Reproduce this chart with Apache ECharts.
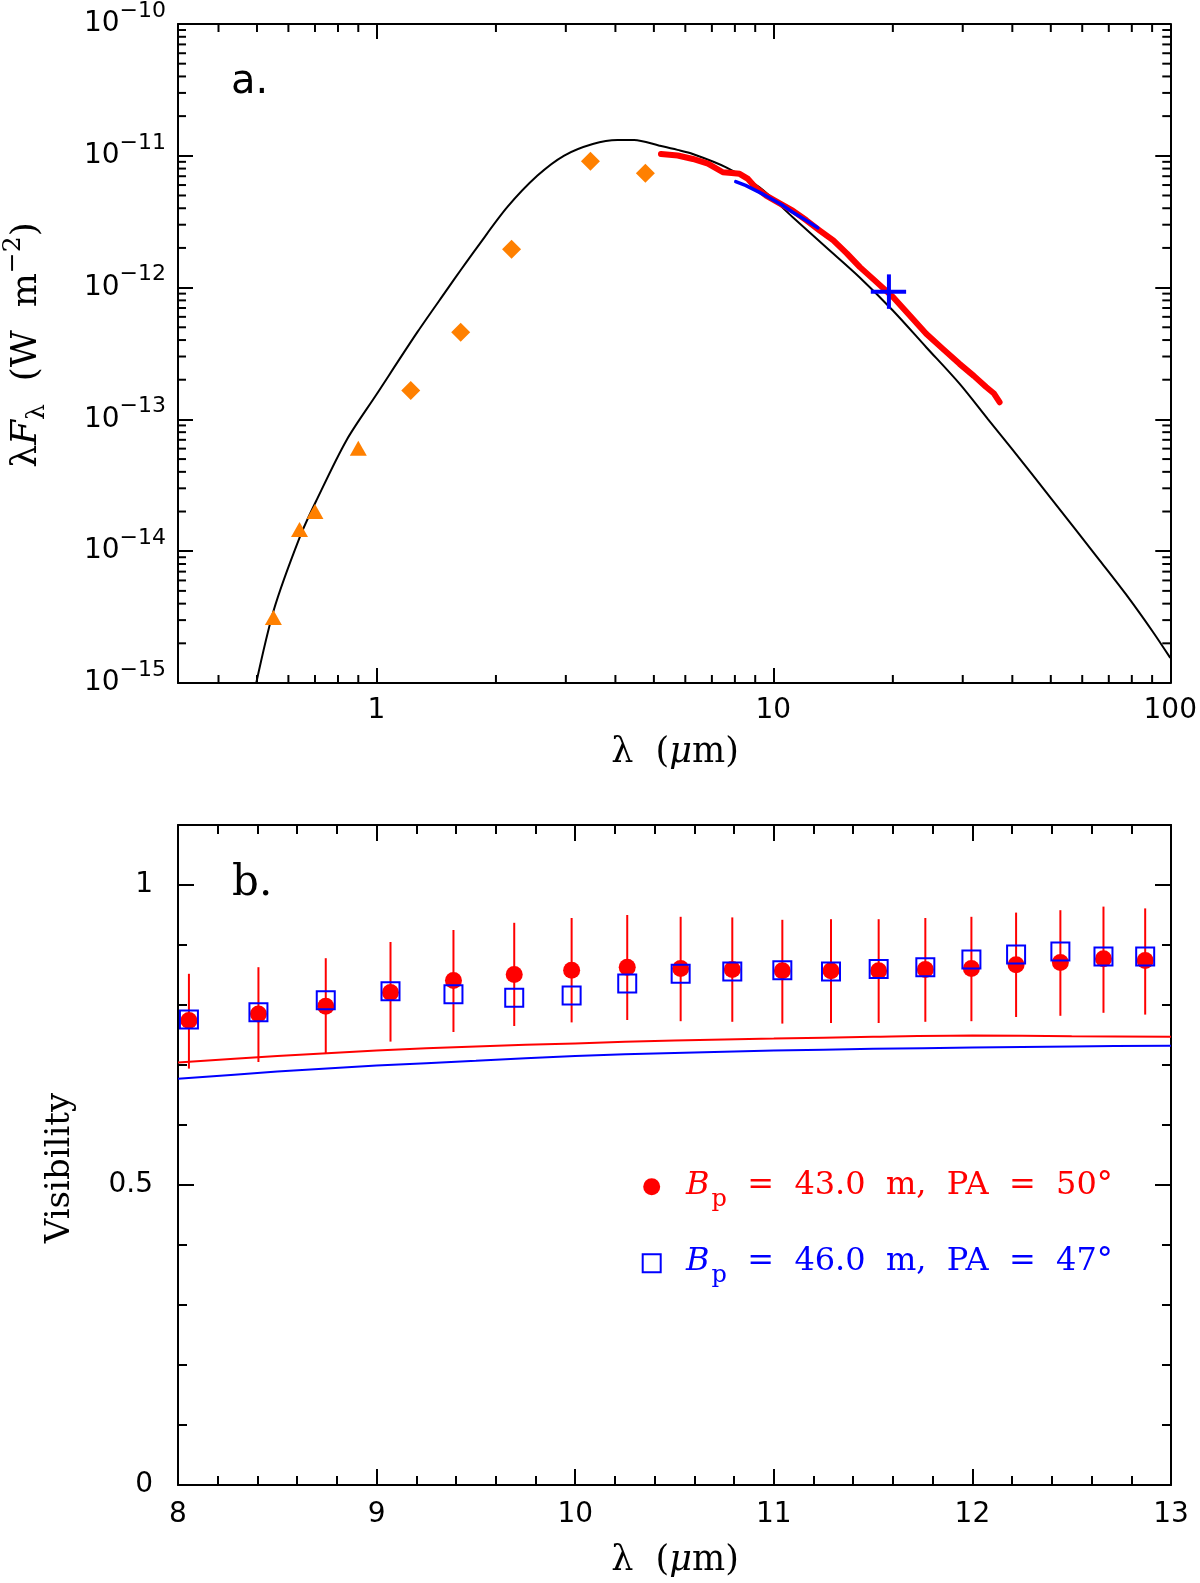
<!DOCTYPE html>
<html><head><meta charset="utf-8">
<script src="https://cdn.jsdelivr.net/npm/echarts@6/dist/echarts.min.js"></script>
<style>html,body{margin:0;padding:0;background:#fff}#c{width:1200px;height:1583px}</style>
</head><body><div id="c"></div>
<script>
// ---------- Panel a: SED ----------
const modelLam = [0.490, 0.551, 0.641, 0.706, 0.840, 1.0, 1.269, 1.510, 1.631, 1.797, 2.138, 2.545, 2.972, 3.508, 4.050, 4.457, 5.164, 5.736, 6.266, 7.603, 9.226, 11.19, 13.58, 16.48, 20.0, 24.27, 29.44, 34.75, 39.81, 50.12, 66.37, 77.45, 90.36, 100];
const modelFlux = [8.0e-16, 3.56e-15, 1.28e-14, 2.43e-14, 6.93e-14, 1.545e-13, 4.61e-13, 9.77e-13, 1.361e-12, 2.04e-12, 4.09e-12, 7.08e-12, 1.005e-11, 1.23e-11, 1.318e-11, 1.318e-11, 1.194e-11, 1.109e-11, 1.033e-11, 8.18e-12, 5.77e-12, 3.42e-12, 2.023e-12, 1.199e-12, 6.70e-13, 3.53e-13, 1.866e-13, 1.0e-13, 6.03e-14, 2.51e-14, 8.53e-15, 4.68e-15, 2.45e-15, 1.55e-15];
const triLam = [0.55, 0.64, 0.70, 0.90];
const triFlux = [3.14e-15, 1.46e-14, 2.0e-14, 6.05e-14];
const diaLam = [1.22, 1.63, 2.19, 3.46, 4.76];
const diaFlux = [1.66e-13, 4.59e-13, 1.95e-12, 9.08e-12, 7.36e-12];
const redSpecLam = [5.21, 5.74, 6.27, 6.84, 7.46, 7.85, 8.22, 8.63, 9.02, 9.59, 10.35, 11.19, 12.11, 13.09, 14.16, 15.31, 16.52, 18.2, 20.04, 22.03, 24.27, 26.73, 29.44, 31.99, 34.36, 35.9, 37.15];
const redSpecFlux = [1.033e-11, 1.005e-11, 9.46e-12, 8.71e-12, 7.50e-12, 7.41e-12, 7.30e-12, 6.68e-12, 5.75e-12, 4.99e-12, 4.37e-12, 3.84e-12, 3.24e-12, 2.71e-12, 2.28e-12, 1.82e-12, 1.43e-12, 1.10e-12, 8.45e-13, 6.17e-13, 4.47e-13, 3.43e-13, 2.64e-13, 2.14e-13, 1.76e-13, 1.58e-13, 1.35e-13];
const blueSpecLam = [8.04, 8.51, 9.23, 9.77, 10.47, 11.19, 12.11, 12.94];
const blueSpecFlux = [6.37e-12, 5.96e-12, 5.28e-12, 4.80e-12, 4.27e-12, 3.73e-12, 3.23e-12, 2.84e-12];
const crossPoint = [19.55, 9.3e-13];
const crossLamRange = [17.6, 21.6];
const crossFluxRange = [6.9e-13, 1.26e-12];
const sedXTickLabels = [1, 10, 100];
const sedYTickExponents = [-15, -14, -13, -12, -11, -10];
const sedXMinorTicks = [0.4, 0.5, 0.6, 0.7, 0.8, 0.9, 2, 3, 4, 5, 6, 7, 8, 9, 20, 30, 40, 50, 60, 70, 80, 90];
const sedYMinorTicks = [2e-15, 3e-15, 4e-15, 5e-15, 6e-15, 7e-15, 8e-15, 9e-15,
  2e-14, 3e-14, 4e-14, 5e-14, 6e-14, 7e-14, 8e-14, 9e-14,
  2e-13, 3e-13, 4e-13, 5e-13, 6e-13, 7e-13, 8e-13, 9e-13,
  2e-12, 3e-12, 4e-12, 5e-12, 6e-12, 7e-12, 8e-12, 9e-12,
  2e-11, 3e-11, 4e-11, 5e-11, 6e-11, 7e-11, 8e-11, 9e-11];

// ---------- Panel b: Visibility ----------
const visLam = [8.055, 8.405, 8.744, 9.07, 9.387, 9.693, 9.982, 10.262, 10.531, 10.791, 11.043, 11.288, 11.528, 11.763, 11.995, 12.22, 12.443, 12.66, 12.87];
const visRed = [0.774, 0.785, 0.798, 0.821, 0.841, 0.851, 0.858, 0.863, 0.861, 0.859, 0.857, 0.857, 0.857, 0.859, 0.861, 0.867, 0.871, 0.877, 0.874];
const visRedLow = [0.694, 0.705, 0.719, 0.739, 0.755, 0.765, 0.771, 0.775, 0.773, 0.772, 0.769, 0.770, 0.770, 0.772, 0.773, 0.780, 0.782, 0.787, 0.784];
const visRedHigh = [0.852, 0.863, 0.878, 0.905, 0.925, 0.937, 0.945, 0.950, 0.947, 0.946, 0.942, 0.943, 0.943, 0.945, 0.947, 0.954, 0.958, 0.964, 0.961];
const visBlue = [0.776, 0.788, 0.808, 0.823, 0.818, 0.812, 0.816, 0.836, 0.852, 0.856, 0.858, 0.856, 0.860, 0.863, 0.876, 0.884, 0.889, 0.881, 0.881];
const modelVisLam = [8.0, 8.5, 9.0, 9.5, 10.0, 10.5, 11.0, 11.5, 12.0, 12.5, 13.0];
const modelVisRed = [0.704, 0.715, 0.724, 0.731, 0.736, 0.741, 0.744, 0.747, 0.749, 0.748, 0.747];
const modelVisBlue = [0.677, 0.689, 0.699, 0.707, 0.715, 0.720, 0.724, 0.727, 0.729, 0.731, 0.732];
const visXTickLabels = [8, 9, 10, 11, 12, 13];
const visYTickLabels = [0, 0.5, 1];

const zip = (a, b) => a.map((v, i) => [v, b[i]]);

const BLACK = '#000';
const TICK_FONT = 'DejaVu Sans';
const SERIF = 'DejaVu Serif';
const lineW = { color: BLACK, width: 2 };

function logXLabel(v) {
  const e = Math.log10(v);
  if (Math.abs(e - Math.round(e)) > 1e-6) return '';
  const val = Math.pow(10, Math.round(e));
  return sedXTickLabels.includes(val) ? String(val) : '';
}
function logYLabel(v) {
  const e = Math.log10(v);
  if (Math.abs(e - Math.round(e)) > 1e-6) return '';
  const n = Math.round(e);
  return sedYTickExponents.includes(n) ? '10{sup|\u2212' + Math.abs(n) + '}' : '';
}

function makeAxis(base, extra) { return Object.assign({}, base, extra); }

const sedX = {
  gridIndex: 0, type: 'log', logBase: 10, min: 0.31623, max: 100,
  axisLine: { show: true, onZero: false, lineStyle: lineW },
  axisTick: { show: true, inside: true, length: 15, lineStyle: lineW },
  splitLine: { show: false }
};
const sedY = {
  gridIndex: 0, type: 'log', logBase: 10, min: 1e-15, max: 1e-10,
  axisLine: { show: true, onZero: false, lineStyle: lineW },
  axisTick: { show: true, inside: true, length: 15, lineStyle: lineW },
  splitLine: { show: false }
};
const visX = {
  gridIndex: 1, type: 'value', min: 8, max: 13, interval: 1,
  axisLine: { show: true, onZero: false, lineStyle: lineW },
  axisTick: { show: true, inside: true, length: 16, lineStyle: lineW },
  minorTick: { show: true, splitNumber: 5, length: 9, lineStyle: lineW },
  splitLine: { show: false }
};
const visY = {
  gridIndex: 1, type: 'value', min: 0, max: 1.1, interval: 0.5,
  axisLine: { show: true, onZero: false, lineStyle: lineW },
  axisTick: { show: true, inside: true, length: 16, lineStyle: lineW },
  minorTick: { show: true, splitNumber: 5, length: 9, lineStyle: lineW },
  splitLine: { show: false }
};

function minorTickSeries(dir, data) {
  return {
    type: 'custom', xAxisIndex: 0, yAxisIndex: 0, silent: true, z: 5,
    data: data,
    encode: { x: 0, y: 1 },
    renderItem: function (params, api) {
      const cs = params.coordSys;
      const p = api.coord([api.value(0), api.value(1)]);
      const L = 8;
      const st = { stroke: BLACK, lineWidth: 2 };
      if (dir === 'x') {
        return { type: 'group', children: [
          { type: 'line', shape: { x1: p[0], y1: cs.y + cs.height, x2: p[0], y2: cs.y + cs.height - L }, style: st },
          { type: 'line', shape: { x1: p[0], y1: cs.y, x2: p[0], y2: cs.y + L }, style: st }
        ] };
      }
      return { type: 'group', children: [
        { type: 'line', shape: { x1: cs.x, y1: p[1], x2: cs.x + L, y2: p[1] }, style: st },
        { type: 'line', shape: { x1: cs.x + cs.width, y1: p[1], x2: cs.x + cs.width - L, y2: p[1] }, style: st }
      ] };
    }
  };
}

const option = {
  backgroundColor: '#fff',
  animation: false,
  grid: [
    { left: 178, top: 23, width: 993, height: 660, containLabel: false },
    { left: 178, top: 825, width: 993, height: 660, containLabel: false }
  ],
  xAxis: [
    makeAxis(sedX, { position: 'bottom', axisLabel: { show: true, margin: 14, fontFamily: TICK_FONT, fontSize: 28, color: BLACK, formatter: logXLabel } }),
    makeAxis(sedX, { position: 'top', axisLabel: { show: false } }),
    makeAxis(visX, { position: 'bottom', axisLabel: { show: true, margin: 16, fontFamily: TICK_FONT, fontSize: 28, color: BLACK,
      formatter: v => visXTickLabels.includes(v) ? String(v) : '' } }),
    makeAxis(visX, { position: 'top', axisLabel: { show: false } })
  ],
  yAxis: [
    makeAxis(sedY, { position: 'left', axisLabel: { show: true, margin: 12, fontFamily: TICK_FONT, fontSize: 28, color: BLACK, formatter: logYLabel,
      rich: { sup: { fontFamily: TICK_FONT, fontSize: 22, color: BLACK, padding: [0, 0, 26, 0] } } } }),
    makeAxis(sedY, { position: 'right', axisLabel: { show: false } }),
    makeAxis(visY, { position: 'left', axisLabel: { show: true, margin: 25, fontFamily: TICK_FONT, fontSize: 28, color: BLACK, showMaxLabel: false,
      formatter: v => visYTickLabels.includes(v) ? String(v) : '' } }),
    makeAxis(visY, { position: 'right', axisLabel: { show: false } })
  ],
  series: [
    { name: 'SED model', type: 'line', xAxisIndex: 0, yAxisIndex: 0, data: zip(modelLam, modelFlux),
      showSymbol: false, symbol: 'none', smooth: 0.3, lineStyle: { color: BLACK, width: 2 }, z: 2 },
    { name: 'Optical photometry', type: 'scatter', xAxisIndex: 0, yAxisIndex: 0, data: zip(triLam, triFlux),
      symbol: 'triangle', symbolSize: [17, 15], itemStyle: { color: '#ff8000', opacity: 1 }, z: 3 },
    { name: 'NIR photometry', type: 'scatter', xAxisIndex: 0, yAxisIndex: 0, data: zip(diaLam, diaFlux),
      symbol: 'diamond', symbolSize: 19, itemStyle: { color: '#ff8000', opacity: 1 }, z: 3 },
    { name: 'IR spectrum (red)', type: 'line', xAxisIndex: 0, yAxisIndex: 0, data: zip(redSpecLam, redSpecFlux),
      showSymbol: false, symbol: 'none', lineStyle: { color: '#ff0000', width: 6, cap: 'round', join: 'round' }, z: 4 },
    { name: 'N-band spectrum (blue)', type: 'line', xAxisIndex: 0, yAxisIndex: 0, data: zip(blueSpecLam, blueSpecFlux),
      showSymbol: false, symbol: 'none', lineStyle: { color: '#0000ff', width: 3.5, cap: 'round', join: 'round' }, z: 5 },
    { name: '20 micron point', type: 'custom', xAxisIndex: 0, yAxisIndex: 0, z: 6,
      data: [[crossPoint[0], crossPoint[1], crossLamRange[0], crossLamRange[1], crossFluxRange[0], crossFluxRange[1]]],
      encode: { x: [0, 2, 3], y: [1, 4, 5] },
      renderItem: function (params, api) {
        const l = api.coord([api.value(2), api.value(1)]);
        const r = api.coord([api.value(3), api.value(1)]);
        const b = api.coord([api.value(0), api.value(4)]);
        const t = api.coord([api.value(0), api.value(5)]);
        const st = { stroke: '#0000ff', lineWidth: 4 };
        return { type: 'group', children: [
          { type: 'line', shape: { x1: l[0], y1: l[1], x2: r[0], y2: r[1] }, style: st },
          { type: 'line', shape: { x1: b[0], y1: b[1], x2: t[0], y2: t[1] }, style: st }
        ] };
      } },
    minorTickSeries('x', sedXMinorTicks.map(v => [v, 1e-12])),
    minorTickSeries('y', sedYMinorTicks.map(v => [1, v])),

    { name: 'Model (red)', type: 'line', xAxisIndex: 2, yAxisIndex: 2, data: zip(modelVisLam, modelVisRed),
      showSymbol: false, symbol: 'none', smooth: 0.3, lineStyle: { color: '#ff0000', width: 2 }, z: 2 },
    { name: 'Model (blue)', type: 'line', xAxisIndex: 2, yAxisIndex: 2, data: zip(modelVisLam, modelVisBlue),
      showSymbol: false, symbol: 'none', smooth: 0.3, lineStyle: { color: '#0000ff', width: 2 }, z: 2 },
    { name: 'Error bars', type: 'custom', xAxisIndex: 2, yAxisIndex: 2, z: 3,
      data: visLam.map((x, i) => [x, visRedLow[i], visRedHigh[i]]),
      encode: { x: 0, y: [1, 2] },
      renderItem: function (params, api) {
        const lo = api.coord([api.value(0), api.value(1)]);
        const hi = api.coord([api.value(0), api.value(2)]);
        return { type: 'line', shape: { x1: lo[0], y1: lo[1], x2: hi[0], y2: hi[1] }, style: { stroke: '#ff0000', lineWidth: 2 } };
      } },
    { name: 'Bp = 43.0 m', type: 'scatter', xAxisIndex: 2, yAxisIndex: 2, data: zip(visLam, visRed),
      symbol: 'circle', symbolSize: 17, itemStyle: { color: '#ff0000', opacity: 1 }, z: 4 },
    { name: 'Bp = 46.0 m', type: 'scatter', xAxisIndex: 2, yAxisIndex: 2, data: zip(visLam, visBlue),
      symbol: 'rect', symbolSize: 18, itemStyle: { color: 'rgba(0,0,0,0)', borderColor: '#0000ff', borderWidth: 2, opacity: 1 }, z: 5 }
  ],
  graphic: [
    { type: 'text', x: 231, y: 83, style: { text: 'a.', fontFamily: TICK_FONT, fontSize: 40, fill: BLACK, align: 'left', verticalAlign: 'middle' } },
    { type: 'text', x: 232, y: 884, style: { text: 'b.', fontFamily: SERIF, fontSize: 42, fill: BLACK, align: 'left', verticalAlign: 'middle' } },
    { type: 'text', x: 675, y: 753, style: { text: '\u03bb  ({it|\u03bc}m)', fontFamily: SERIF, fontSize: 35, fill: BLACK, align: 'center', verticalAlign: 'middle',
      rich: { it: { fontFamily: SERIF, fontSize: 35, fontStyle: 'italic', fill: BLACK } } } },
    { type: 'text', x: 675, y: 1561, style: { text: '\u03bb  ({it|\u03bc}m)', fontFamily: SERIF, fontSize: 35, fill: BLACK, align: 'center', verticalAlign: 'middle',
      rich: { it: { fontFamily: SERIF, fontSize: 35, fontStyle: 'italic', fill: BLACK } } } },
    { type: 'text', x: 27, y: 345, rotation: Math.PI / 2,
      style: { text: '\u03bb{it|F}{sub|\u03bb}  (W  m{sup|\u22122})', fontFamily: SERIF, fontSize: 36, fill: BLACK, align: 'center', verticalAlign: 'middle',
        rich: {
          it: { fontFamily: SERIF, fontSize: 36, fontStyle: 'italic', fill: BLACK },
          sub: { fontFamily: SERIF, fontSize: 25, fill: BLACK, padding: [20, 0, 0, 0] },
          sup: { fontFamily: SERIF, fontSize: 25, fill: BLACK, padding: [0, 0, 28, 0] }
        } } },
    { type: 'text', x: 60, y: 1168, rotation: Math.PI / 2,
      style: { text: 'Visibility', fontFamily: SERIF, fontSize: 34, fill: BLACK, align: 'center', verticalAlign: 'middle' } },
    // legend
    { type: 'circle', shape: { cx: 651.7, cy: 1186.7, r: 8.5 }, style: { fill: '#ff0000' } },
    { type: 'rect', shape: { x: 642.7, y: 1254.3, width: 18, height: 18 }, style: { fill: 'none', stroke: '#0000ff', lineWidth: 2 } },
    { type: 'text', x: 686, y: 1186, style: { text: '{it|B}{sub|p}  =  43.0  m,  PA  =  50\u00b0', fontFamily: SERIF, fontSize: 32, fill: '#ff0000', align: 'left', verticalAlign: 'middle',
      rich: {
        it: { fontFamily: SERIF, fontSize: 32, fontStyle: 'italic', fill: '#ff0000' },
        sub: { fontFamily: SERIF, fontSize: 24, fill: '#ff0000', padding: [28, 0, 0, 2] }
      } } },
    { type: 'text', x: 686, y: 1262, style: { text: '{it|B}{sub|p}  =  46.0  m,  PA  =  47\u00b0', fontFamily: SERIF, fontSize: 32, fill: '#0000ff', align: 'left', verticalAlign: 'middle',
      rich: {
        it: { fontFamily: SERIF, fontSize: 32, fontStyle: 'italic', fill: '#0000ff' },
        sub: { fontFamily: SERIF, fontSize: 24, fill: '#0000ff', padding: [28, 0, 0, 2] }
      } } }
  ]
};

const chart = echarts.init(document.getElementById('c'), null, { renderer: 'canvas', width: 1200, height: 1583 });
chart.setOption(option);
</script>
</body></html>
